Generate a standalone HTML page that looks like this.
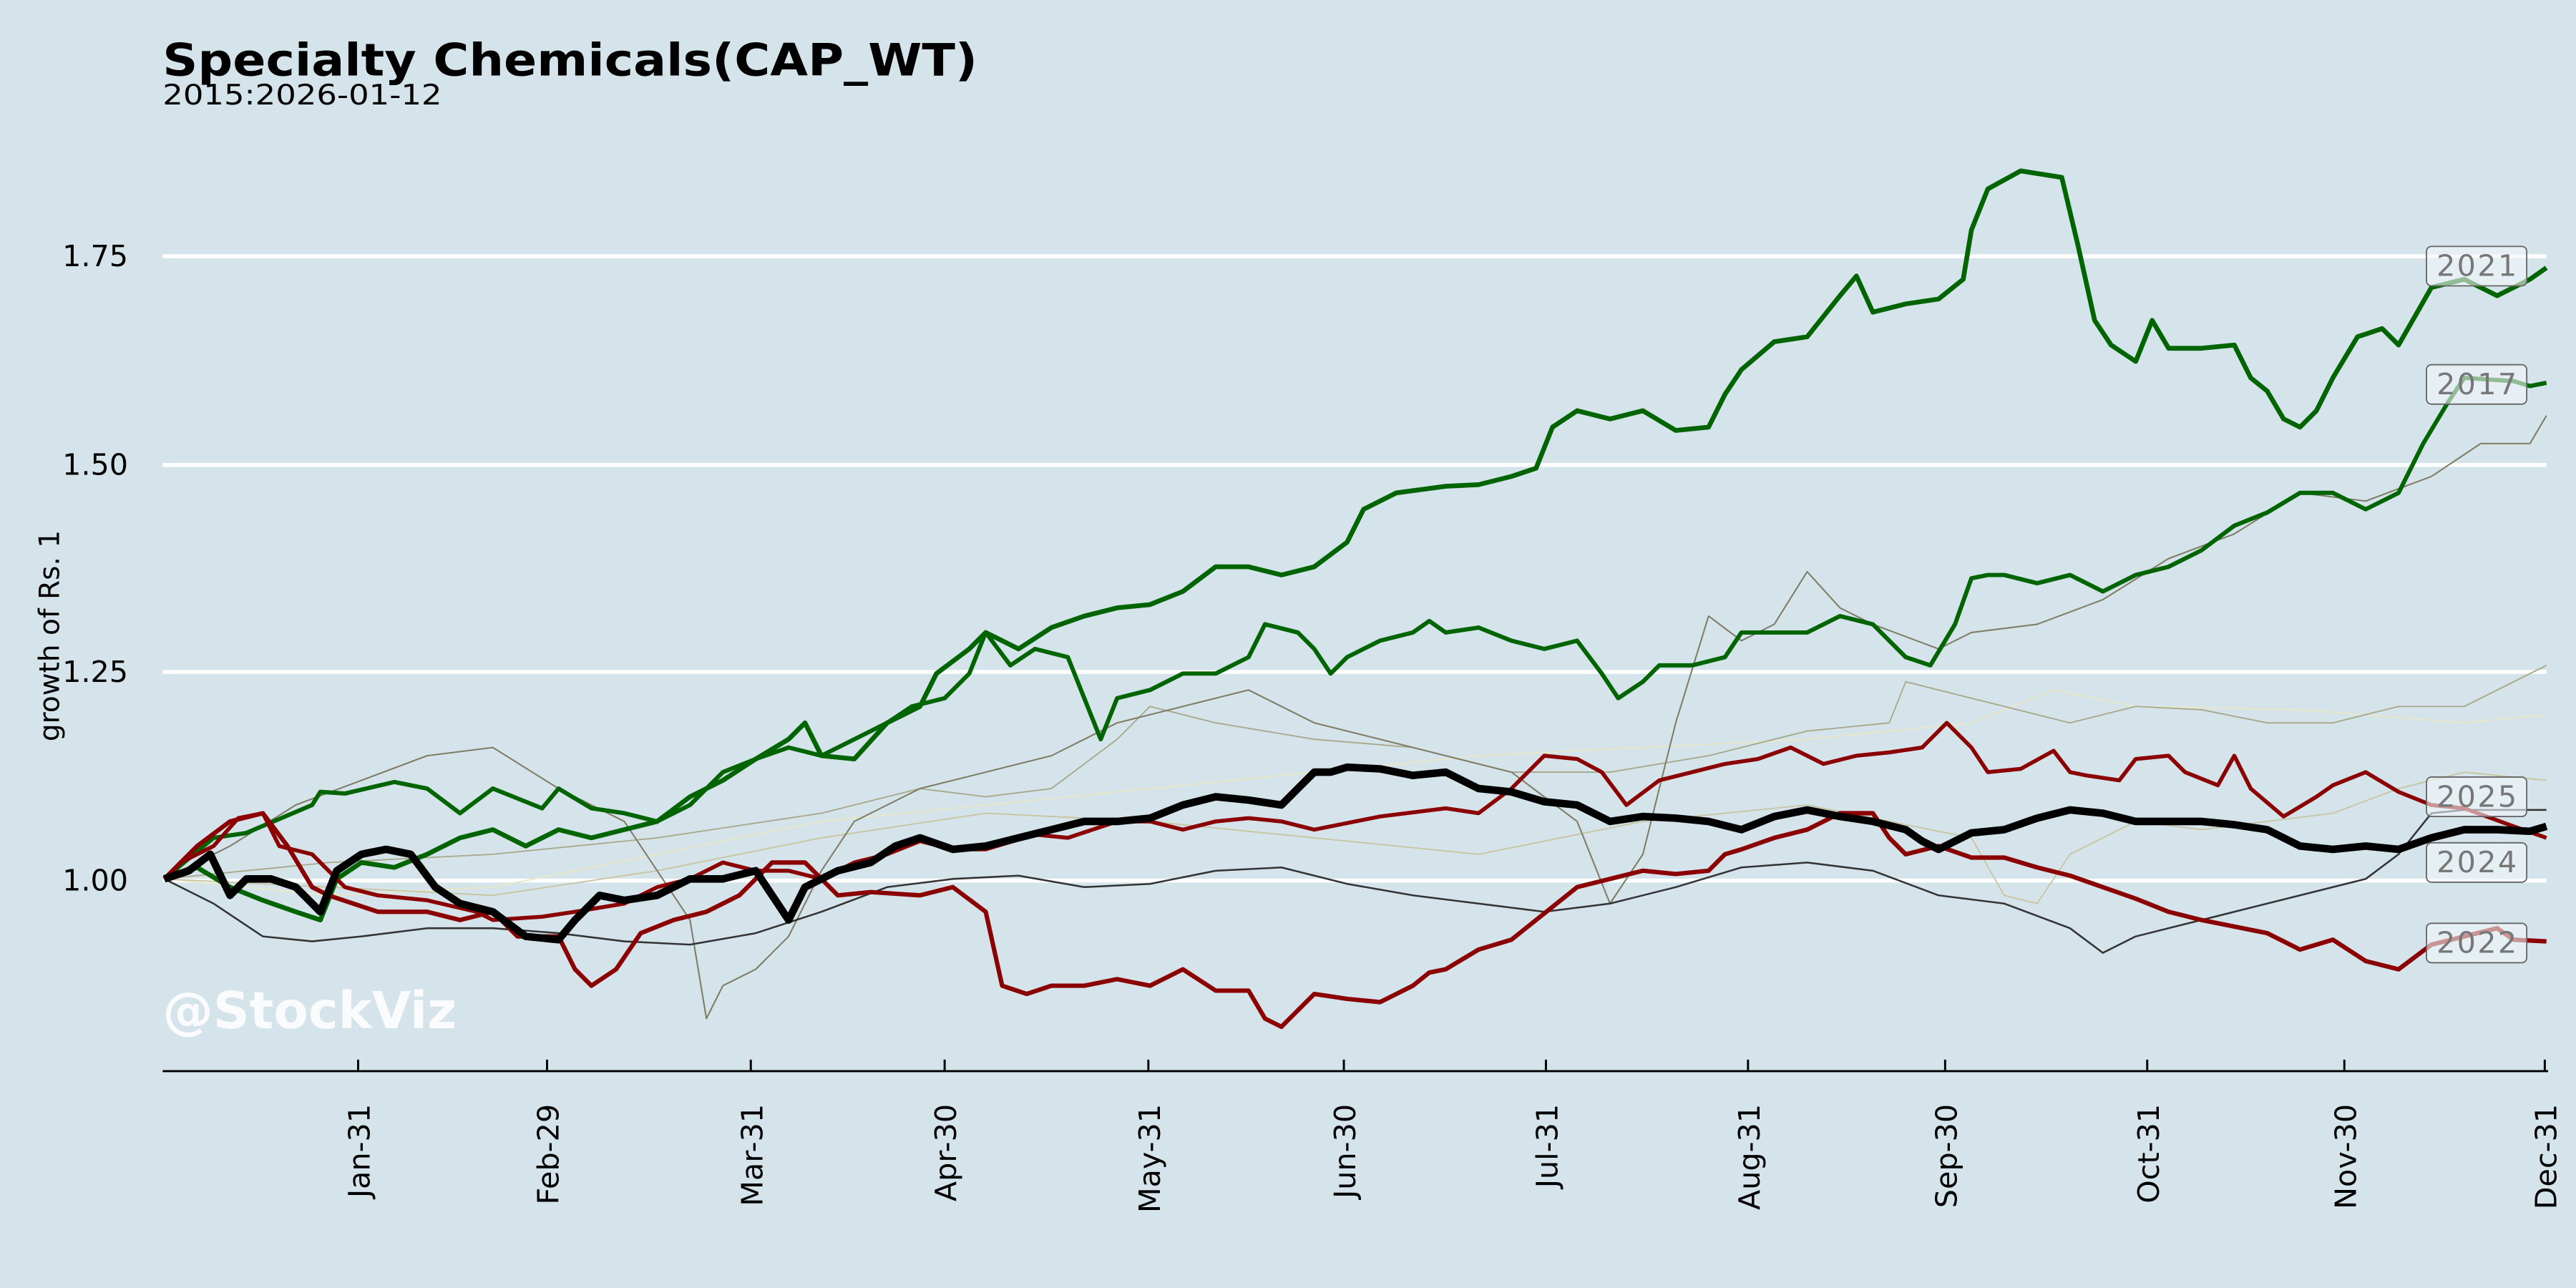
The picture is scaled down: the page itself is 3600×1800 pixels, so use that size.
<!DOCTYPE html>
<html><head><meta charset="utf-8"><style>
html,body{margin:0;padding:0;background:#d5e4eb;}
svg{display:block;}
text{font-family:"DejaVu Sans","Liberation Sans",sans-serif;}
</style></head><body>
<svg width="3600" height="1800" viewBox="0 0 1568 784" xmlns="http://www.w3.org/2000/svg">
<rect width="1568" height="784" fill="#d5e4eb"/>
<text x="99" y="46" font-size="27" font-weight="bold" textLength="496" lengthAdjust="spacingAndGlyphs">Specialty Chemicals(CAP_WT)</text>
<text x="99" y="63.5" font-size="17" textLength="170" lengthAdjust="spacingAndGlyphs">2015:2026-01-12</text>
<g stroke="#fff" stroke-width="2.4">
<line x1="99" y1="156" x2="1550" y2="156"/><line x1="99" y1="283" x2="1550" y2="283"/>
<line x1="99" y1="409" x2="1550" y2="409"/><line x1="99" y1="536" x2="1550" y2="536"/>
</g>
<g font-size="18" text-anchor="end">
<text x="78" y="162">1.75</text><text x="78" y="289">1.50</text><text x="78" y="415">1.25</text><text x="78" y="542">1.00</text>
</g>
<text transform="translate(36,387) rotate(-90)" font-size="17" text-anchor="middle">growth of Rs. 1</text>
<text x="99" y="626" font-size="31" font-weight="bold" fill="#fff" fill-opacity="0.85" textLength="179" lengthAdjust="spacingAndGlyphs">@StockViz</text>
<g fill="none" stroke-linejoin="round">
<polyline stroke="#e8e8c8" stroke-width="0.8" points="100,535 200,545 300,540 400,520 500,500 600,490 700,480 800,470 900,460 1000,455 1100,450 1200,440 1250,420 1300,430 1400,432 1500,440 1550,435"/>
<polyline stroke="#c8c4a0" stroke-width="0.8" points="100,535 200,540 300,545 400,530 500,510 600,495 700,500 800,510 900,520 1000,500 1100,490 1150,500 1200,510 1220,545 1240,550 1260,520 1300,500 1340,505 1380,500 1420,495 1460,480 1500,470 1550,475"/>
<polyline stroke="#a8a88a" stroke-width="0.8" points="100,535 200,525 300,520 400,510 500,495 560,480 600,485 640,480 680,450 700,430 740,440 800,450 860,455 920,470 980,470 1040,460 1100,445 1150,440 1160,415 1200,425 1260,440 1300,430 1340,432 1380,440 1420,440 1460,430 1500,430 1550,405"/>
<polyline stroke="#7f7d66" stroke-width="0.9" points="100,535 140,515 180,490 220,475 260,460 300,455 340,480 380,500 420,560 430,620 440,600 460,590 480,570 500,530 520,500 540,490 560,480 600,470 640,460 680,440 720,430 760,420 800,440 840,450 880,460 920,470 960,500 980,550 1000,520 1020,440 1040,375 1060,390 1080,380 1100,348 1120,370 1140,380 1180,395 1200,385 1240,380 1280,365 1320,340 1360,325 1400,300 1440,305 1480,290 1510,270 1540,270 1550,253"/>
<polyline stroke="#333" stroke-width="1.1" points="100,535 130,550 160,570 190,573 220,570 260,565 300,565 340,568 380,573 420,575 460,568 500,555 540,540 580,535 620,533 660,540 700,538 740,530 780,528 820,538 860,545 900,550 940,555 980,550 1020,540 1060,528 1100,525 1140,530 1180,545 1220,550 1260,565 1280,580 1300,570 1320,565 1340,560 1360,555 1400,545 1440,535 1460,520 1480,495 1500,493 1550,493"/>
<polyline stroke="#006400" stroke-width="2.6" points="100,535 130,510 150,507 190,490 195,482 210,483 240,476 260,480 280,495 300,480 330,492 340,480 360,492 380,495 400,500 420,490 440,470 460,462 480,455 500,460 520,450 540,440 555,430 575,425 590,410 600,385 615,405 630,395 650,400 660,425 670,450 680,425 700,420 720,410 740,410 760,400 770,380 790,385 800,395 810,410 820,400 840,390 860,385 870,378 880,385 900,382 920,390 940,395 960,390 975,410 985,425 1000,415 1010,405 1030,405 1050,400 1060,385 1080,385 1100,385 1120,375 1140,380 1160,400 1175,405 1190,380 1200,352 1210,350 1220,350 1240,355 1260,350 1280,360 1300,350 1320,345 1340,335 1360,320 1380,312 1400,300 1420,300 1440,310 1460,300 1475,270 1490,245 1500,230 1530,232 1540,235 1550,233"/>
<polyline stroke="#006400" stroke-width="2.9" points="100,535 120,528 140,540 160,548 180,555 195,560 205,535 220,525 240,528 260,520 280,510 300,505 320,515 340,505 360,510 380,505 400,500 420,485 440,475 460,462 480,450 490,440 500,460 520,462 540,440 560,430 570,410 590,395 600,385 620,395 640,382 660,375 680,370 700,368 720,360 740,345 760,345 780,350 800,345 820,330 830,310 850,300 880,296 900,295 920,290 935,285 945,260 960,250 980,255 1000,250 1020,262 1040,260 1050,240 1060,225 1080,208 1100,205 1120,180 1130,168 1140,190 1160,185 1180,182 1195,170 1200,140 1210,115 1230,104 1255,108 1265,150 1275,195 1285,210 1300,220 1310,195 1320,212 1340,212 1360,210 1370,230 1380,238 1390,255 1400,260 1410,250 1420,230 1435,205 1450,200 1460,210 1480,175 1500,170 1520,180 1540,170 1550,163"/>
<polyline stroke="#8b0000" stroke-width="2.4" points="100,535 110,525 130,515 145,498 160,495 170,515 190,520 210,540 230,545 260,548 290,555 300,560 330,558 350,555 380,550 400,540 420,535 440,525 460,530 480,530 500,535 520,525 540,520 560,512 580,517 600,517 630,508 650,510 680,500 700,500 720,505 740,500 760,498 780,500 800,505 840,497 880,492 900,495 920,480 940,460 960,462 975,470 990,490 1010,475 1030,470 1050,465 1070,462 1090,455 1110,465 1130,460 1150,458 1170,455 1185,440 1200,455 1210,470 1230,468 1250,457 1260,470 1270,472 1290,475 1300,462 1320,460 1330,470 1350,478 1360,460 1370,480 1390,497 1410,485 1420,478 1440,470 1460,482 1480,490 1500,492 1530,503 1550,510"/>
<polyline stroke="#8b0000" stroke-width="2.7" points="100,535 120,515 140,500 160,495 175,515 190,540 200,545 230,555 260,555 280,560 300,555 315,570 340,570 350,590 360,600 375,590 390,568 410,560 430,555 450,545 470,525 490,525 510,545 530,543 560,545 580,540 600,555 610,600 625,605 640,600 660,600 680,596 700,600 720,590 740,603 760,603 770,620 780,625 800,605 820,608 840,610 860,600 870,592 880,590 900,578 920,572 940,556 960,540 980,535 1000,530 1020,532 1040,530 1050,520 1060,517 1080,510 1100,505 1120,495 1140,495 1150,510 1160,520 1180,515 1200,522 1220,522 1240,528 1260,533 1280,540 1300,547 1320,555 1340,560 1380,568 1400,578 1420,572 1440,585 1460,590 1480,575 1500,570 1520,565 1530,572 1550,573"/>
<polyline stroke="#000" stroke-width="4.6" points="100,535 115,530 128,520 140,545 150,535 165,535 180,540 195,555 205,530 220,520 235,517 250,520 265,540 280,550 300,555 320,570 340,572 350,560 365,545 380,548 400,545 420,535 440,535 460,530 480,560 490,540 510,530 530,525 545,515 560,510 580,517 600,515 620,510 640,505 660,500 680,500 700,498 720,490 740,485 760,487 780,490 790,480 800,470 810,470 820,467 840,468 860,472 880,470 900,480 920,482 940,488 960,490 980,500 1000,497 1020,498 1040,500 1060,505 1080,497 1100,493 1120,497 1140,500 1160,505 1170,512 1180,517 1200,507 1220,505 1240,498 1260,493 1280,495 1300,500 1320,500 1340,500 1360,502 1380,505 1400,515 1420,517 1440,515 1460,517 1480,510 1500,505 1520,505 1540,506 1550,503"/>
</g>
<g font-size="18" fill="#777" text-anchor="middle" letter-spacing="1">
<g fill="#f2f6f8" fill-opacity="0.6" stroke="#666" stroke-width="0.8">
<rect x="1477" y="150" width="61" height="24" rx="3"/><rect x="1477" y="222" width="61" height="24" rx="3"/>
<rect x="1477" y="473" width="61" height="24" rx="3"/><rect x="1477" y="513" width="61" height="24" rx="3"/>
<rect x="1477" y="562" width="61" height="24" rx="3"/>
</g>
<text x="1508" y="168">2021</text><text x="1508" y="240">2017</text><text x="1508" y="491">2025</text>
<text x="1508" y="531">2024</text><text x="1508" y="580">2022</text>
</g>
<line x1="99" y1="652" x2="1551" y2="652" stroke="#000" stroke-width="1.3"/>
<g stroke="#000" stroke-width="1.3">
<line x1="218" y1="652" x2="218" y2="645"/><line x1="333" y1="652" x2="333" y2="645"/><line x1="457" y1="652" x2="457" y2="645"/>
<line x1="575" y1="652" x2="575" y2="645"/><line x1="699" y1="652" x2="699" y2="645"/><line x1="818" y1="652" x2="818" y2="645"/>
<line x1="941" y1="652" x2="941" y2="645"/><line x1="1064" y1="652" x2="1064" y2="645"/><line x1="1184" y1="652" x2="1184" y2="645"/>
<line x1="1307" y1="652" x2="1307" y2="645"/><line x1="1427" y1="652" x2="1427" y2="645"/><line x1="1549" y1="652" x2="1549" y2="645"/>
</g>
<g font-size="18" text-anchor="end">
<text transform="translate(225,672) rotate(-90)">Jan-31</text>
<text transform="translate(340,672) rotate(-90)">Feb-29</text>
<text transform="translate(464,672) rotate(-90)">Mar-31</text>
<text transform="translate(582,672) rotate(-90)">Apr-30</text>
<text transform="translate(706,672) rotate(-90)">May-31</text>
<text transform="translate(825,672) rotate(-90)">Jun-30</text>
<text transform="translate(948,672) rotate(-90)">Jul-31</text>
<text transform="translate(1071,672) rotate(-90)">Aug-31</text>
<text transform="translate(1191,672) rotate(-90)">Sep-30</text>
<text transform="translate(1314,672) rotate(-90)">Oct-31</text>
<text transform="translate(1434,672) rotate(-90)">Nov-30</text>
<text transform="translate(1556,672) rotate(-90)">Dec-31</text>
</g>
</svg>
</body></html>
